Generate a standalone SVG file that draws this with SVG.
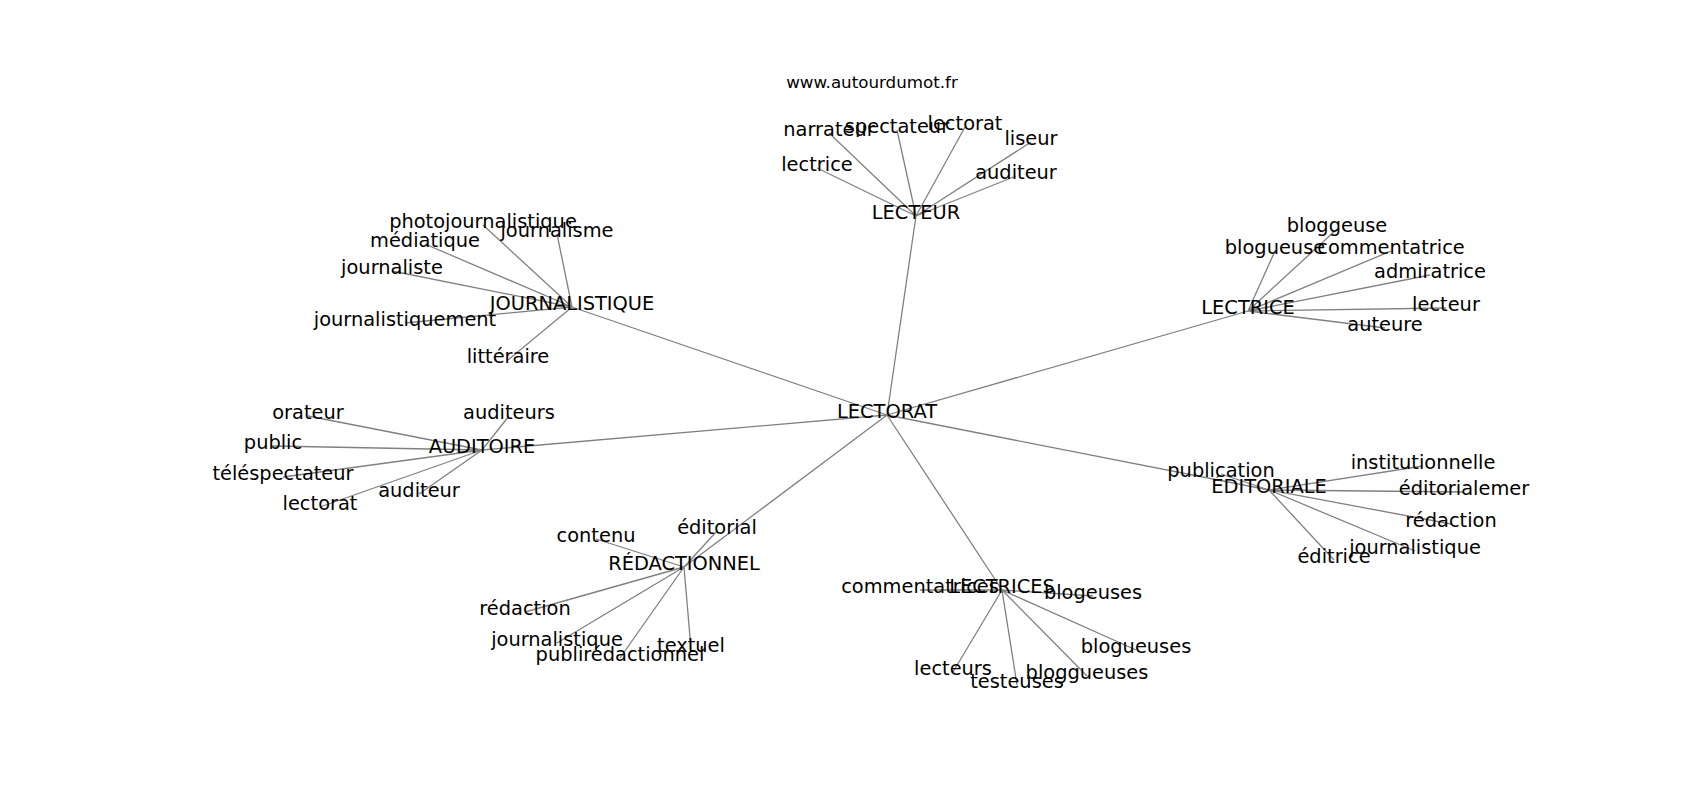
<svg xmlns="http://www.w3.org/2000/svg" width="1700" height="800" viewBox="0 0 1700 800">
<style>
.e{stroke:#808080;stroke-width:1.3;fill:none}
text{font-family:"DejaVu Sans",sans-serif;fill:#000;text-anchor:middle}
.n text{font-size:19.4px}
.t{font-size:16.7px}
</style>
<rect width="1700" height="800" fill="#fff"/>
<g id="connectors" class="e">
<path d="M887,415L916,216M887,415L572,307M887,415L1248,311M887,415L482,450M887,415L1269,490M887,415L684,567M887,415L1002,590"/>
<path d="M916,216L829,133M916,216L897,130M916,216L965,127M916,216L1031,142M916,216L817,168M916,216L1016,176"/>
<path d="M572,307L483,225M572,307L557,234M572,307L425,244M572,307L392,271M572,307L405,323M572,307L508,360"/>
<path d="M482,450L308,416M482,450L273,446M482,450L283,477M482,450L320,507M482,450L419,494M482,450L509,416"/>
<path d="M1248,311L1337,229M1248,311L1275,251M1248,311L1391,251M1248,311L1430,275M1248,311L1446,308M1248,311L1385,328"/>
<path d="M1269,490L1221,474M1269,490L1423,466M1269,490L1464,492M1269,490L1451,524M1269,490L1415,551M1269,490L1334,560"/>
<path d="M684,567L596,539M684,567L717,531M684,567L525,612M684,567L557,643M684,567L620,658M684,567L691,649"/>
<path d="M1002,590L920,590M1002,590L1093,596M1002,590L1136,650M1002,590L1087,676M1002,590L953,672M1002,590L1017,685"/>
</g>
<text class="t" x="872" y="88">www.autourdumot.fr</text>
<g class="n">
<g id="lectorat"><text x="887" y="418">LECTORAT</text></g>
<g id="lecteur"><text x="916" y="219">LECTEUR</text>
<text x="829" y="136">narrateur</text><text x="897" y="133">spectateur</text><text x="965" y="130">lectorat</text><text x="1031" y="145">liseur</text><text x="817" y="171">lectrice</text><text x="1016" y="179">auditeur</text></g>
<g id="journalistique"><text x="572" y="310">JOURNALISTIQUE</text>
<text x="483" y="228">photojournalistique</text><text x="557" y="237">journalisme</text><text x="425" y="247">médiatique</text><text x="392" y="274">journaliste</text><text x="405" y="326">journalistiquement</text><text x="508" y="363">littéraire</text></g>
<g id="auditoire"><text x="482" y="453">AUDITOIRE</text>
<text x="308" y="419">orateur</text><text x="273" y="449">public</text><text x="283" y="480">téléspectateur</text><text x="320" y="510">lectorat</text><text x="419" y="497">auditeur</text><text x="509" y="419">auditeurs</text></g>
<g id="lectrice"><text x="1248" y="314">LECTRICE</text>
<text x="1337" y="232">bloggeuse</text><text x="1275" y="254">blogueuse</text><text x="1391" y="254">commentatrice</text><text x="1430" y="278">admiratrice</text><text x="1446" y="311">lecteur</text><text x="1385" y="331">auteure</text></g>
<g id="editoriale"><text x="1269" y="493">ÉDITORIALE</text>
<text x="1221" y="477">publication</text><text x="1423" y="469">institutionnelle</text><text x="1464" y="495">éditorialemer</text><text x="1451" y="527">rédaction</text><text x="1415" y="554">journalistique</text><text x="1334" y="563">éditrice</text></g>
<g id="redactionnel"><text x="684" y="570">RÉDACTIONNEL</text>
<text x="596" y="542">contenu</text><text x="717" y="534">éditorial</text><text x="525" y="615">rédaction</text><text x="557" y="646">journalistique</text><text x="620" y="661">publirédactionnel</text><text x="691" y="652">textuel</text></g>
<g id="lectrices"><text x="1002" y="593">LECTRICES</text>
<text x="920" y="593">commentatrices</text><text x="1093" y="599">blogeuses</text><text x="1136" y="653">blogueuses</text><text x="1087" y="679">bloggueuses</text><text x="953" y="675">lecteurs</text><text x="1017" y="688">testeuses</text></g>
</g>
</svg>
